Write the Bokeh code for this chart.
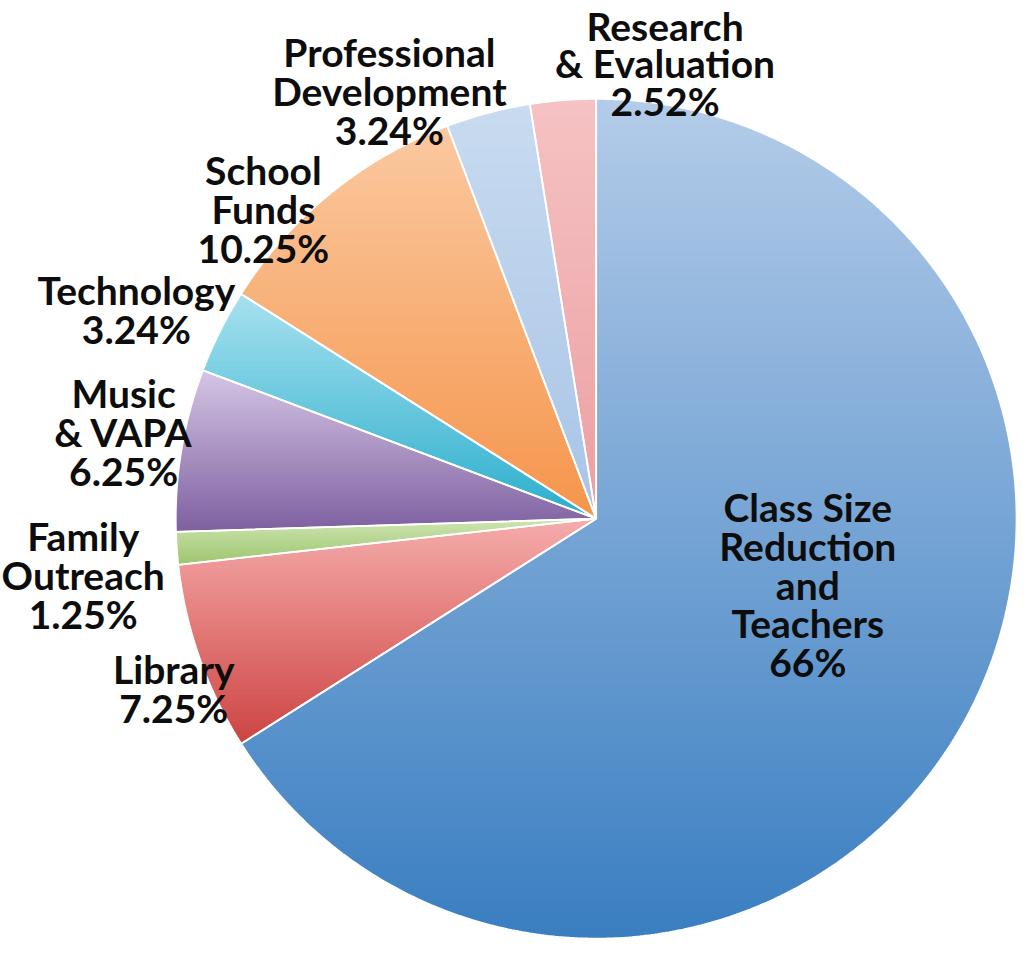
import math
from bokeh.plotting import figure
from bokeh.models import Range1d, ColumnDataSource
from bokeh.core.properties import value
from bokeh.embed import file_html
from bokeh.resources import INLINE

# ---------------- data (clockwise from 12 o'clock) ----------------
categories = ["Class Size\nReduction\nand\nTeachers", "Library", "Family\nOutreach",
              "Music\n& VAPA", "Technology", "School\nFunds",
              "Professional\nDevelopment", "Research\n& Evaluation"]
shares = [66.0, 7.25, 1.25, 6.25, 3.24, 10.25, 3.24, 2.52]
share_labels = ["66%", "7.25%", "1.25%", "6.25%", "3.24%", "10.25%", "3.24%", "2.52%"]

# ---------------- style ----------------
top_colors = ["#b4cce9", "#f5adac", "#cfe5b3", "#d5c6e5", "#a8e1f0", "#fbc9a1", "#c8dbf0", "#f6c2c3"]
bot_colors = ["#3a7ec1", "#cd4442", "#9ec66e", "#7e60a0", "#2aaecb", "#f5954b", "#a8c4e6", "#eb9fa2"]

# layout, in reference-image pixels (y grows downwards)
REF_W, REF_H = 1035, 959
CX, CY, R = 605.0, 527.0, 427.0
label_pos = [(820, 594), (176, 700), (84, 584), (125, 439),
             (138, 314), (267, 212), (395, 92), (675, 64)]
label_step = [39.5, 39.5, 39.5, 39.5, 39.5, 39.5, 39.5, 38.0]
FONT_SIZE = "39px"

W, H = 1019, 943


def hex2rgb(h):
    h = h.lstrip("#")
    return tuple(int(h[i:i + 2], 16) for i in (0, 2, 4))


def mix(c1, c2, t):
    a, b = hex2rgb(c1), hex2rgb(c2)
    return "#%02x%02x%02x" % tuple(int(round(a[i] + (b[i] - a[i]) * t)) for i in range(3))


def clip_y(pts, yc, keep_ge):
    out = []
    n = len(pts)
    for i in range(n):
        cur, prev = pts[i], pts[i - 1]
        cin = cur[1] >= yc if keep_ge else cur[1] <= yc
        pin = prev[1] >= yc if keep_ge else prev[1] <= yc
        if cin != pin:
            t = (yc - prev[1]) / (cur[1] - prev[1])
            out.append((prev[0] + t * (cur[0] - prev[0]), yc))
        if cin:
            out.append(cur)
    return out


p = figure(width=W, height=H, output_backend="svg", toolbar_location=None,
           x_range=Range1d(0, REF_W), y_range=Range1d(REF_H, 0),
           min_border=0, outline_line_color=None)
p.axis.visible = False
p.grid.visible = False
p.background_fill_color = "white"
p.border_fill_color = "white"

total = sum(shares)
band_xs, band_ys, band_cols = [], [], []
out_xs, out_ys = [], []
a0 = 0.0
for i, s in enumerate(shares):
    a1 = a0 + s / total * 2 * math.pi
    n = max(4, int((a1 - a0) / (2 * math.pi) * 720))
    poly = [(CX, CY)]
    for k in range(n + 1):
        a = a0 + (a1 - a0) * k / n
        poly.append((CX + R * math.sin(a), CY - R * math.cos(a)))
    out_xs.append([q[0] for q in poly])
    out_ys.append([q[1] for q in poly])
    ymin = min(q[1] for q in poly)
    ymax = max(q[1] for q in poly)
    step = 3.0
    y = ymin
    while y < ymax:
        y2 = min(y + step, ymax)
        piece = clip_y(poly, y - 0.6, True)
        piece = clip_y(piece, y2 + 0.6, False) if piece else piece
        if len(piece) >= 3:
            t = ((y + y2) / 2 - ymin) / (ymax - ymin)
            band_xs.append([q[0] for q in piece])
            band_ys.append([q[1] for q in piece])
            band_cols.append(mix(top_colors[i], bot_colors[i], t))
        y = y2
    a0 = a1

p.patches(xs="xs", ys="ys", fill_color="c", line_color=None,
          source=ColumnDataSource(dict(xs=band_xs, ys=band_ys, c=band_cols)))
p.patches(xs=out_xs, ys=out_ys, fill_color=None, line_color="white", line_width=1.8)

# labels
tx, ty, tt = [], [], []
for i, cat in enumerate(categories):
    lines = cat.split("\n") + [share_labels[i]]
    lx, ly = label_pos[i]
    nL = len(lines)
    for j, ln in enumerate(lines):
        tx.append(lx)
        ty.append(ly + (j - (nL - 1) / 2) * label_step[i])
        tt.append(ln)

p.text(x="x", y="y", text="t", source=ColumnDataSource(dict(x=tx, y=ty, t=tt)),
       text_font=value("Lato"), text_font_style="bold", text_font_size=FONT_SIZE,
       text_align="center", text_baseline="middle", text_color="#0d0d0d")

open("out.html", "w").write(file_html(p, INLINE))
